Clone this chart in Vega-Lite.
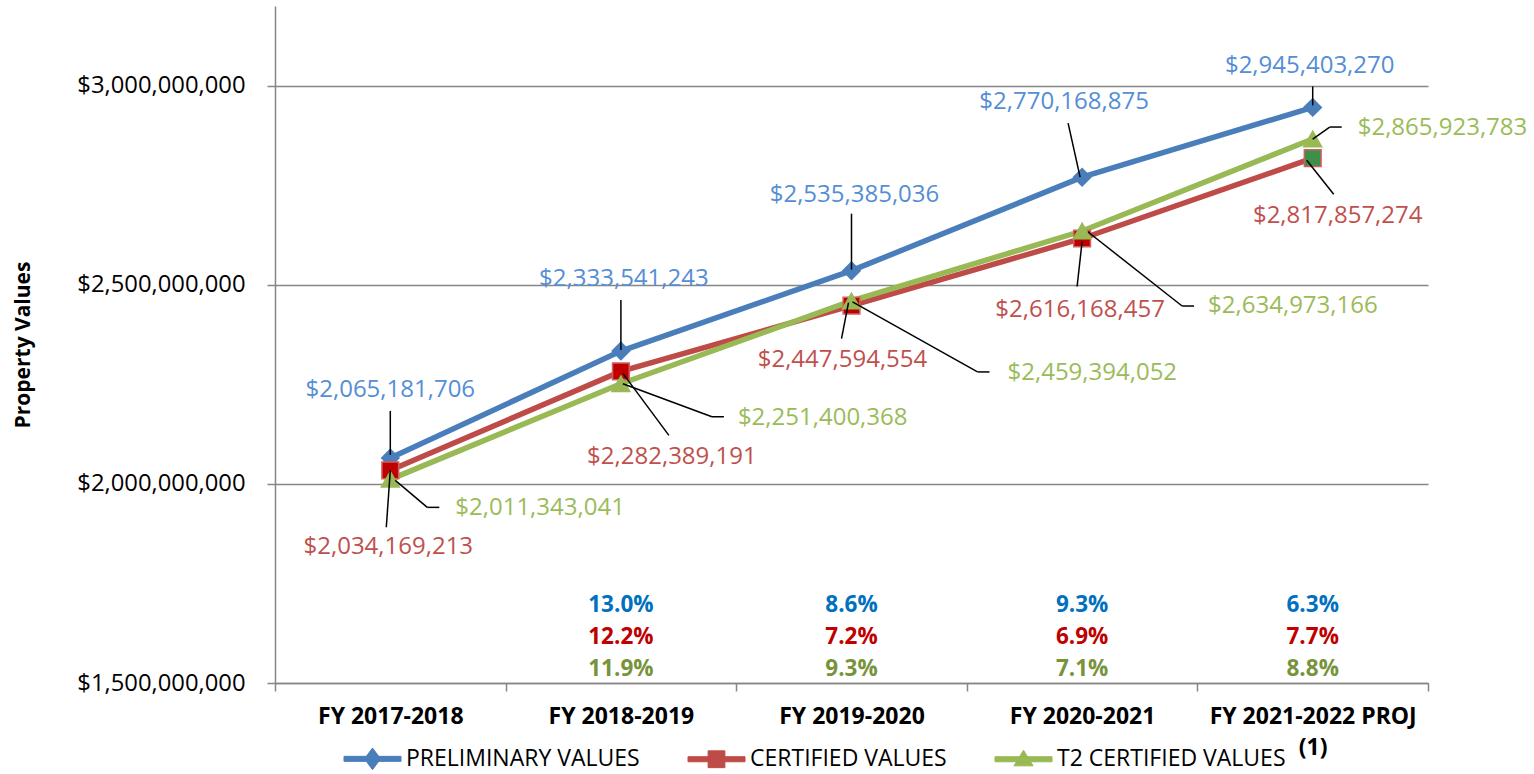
{
  "$schema": "https://vega.github.io/schema/vega-lite/v6.json",
  "width": 1153,
  "height": 677,
  "padding": {"left": 12, "top": 6, "right": 0, "bottom": 0},
  "background": "white",
  "params": [
    {"name": "yrs", "value": ["FY 2017-2018", "FY 2018-2019", "FY 2019-2020", "FY 2020-2021", "FY 2021-2022 PROJ"]}
  ],
  "config": {"view": {"stroke": null}, "font": "Open Sans"},
  "data": {
    "values": [
      {"year": "FY 2017-2018", "series": "PRELIMINARY VALUES", "value": 2065181706, "growth": null},
      {"year": "FY 2018-2019", "series": "PRELIMINARY VALUES", "value": 2333541243, "growth": "13.0%"},
      {"year": "FY 2019-2020", "series": "PRELIMINARY VALUES", "value": 2535385036, "growth": "8.6%"},
      {"year": "FY 2020-2021", "series": "PRELIMINARY VALUES", "value": 2770168875, "growth": "9.3%"},
      {"year": "FY 2021-2022 PROJ", "series": "PRELIMINARY VALUES", "value": 2945403270, "growth": "6.3%"},
      {"year": "FY 2017-2018", "series": "CERTIFIED VALUES", "value": 2034169213, "growth": null},
      {"year": "FY 2018-2019", "series": "CERTIFIED VALUES", "value": 2282389191, "growth": "12.2%"},
      {"year": "FY 2019-2020", "series": "CERTIFIED VALUES", "value": 2447594554, "growth": "7.2%"},
      {"year": "FY 2020-2021", "series": "CERTIFIED VALUES", "value": 2616168457, "growth": "6.9%"},
      {"year": "FY 2021-2022 PROJ", "series": "CERTIFIED VALUES", "value": 2817857274, "growth": "7.7%"},
      {"year": "FY 2017-2018", "series": "T2 CERTIFIED VALUES", "value": 2011343041, "growth": null},
      {"year": "FY 2018-2019", "series": "T2 CERTIFIED VALUES", "value": 2251400368, "growth": "11.9%"},
      {"year": "FY 2019-2020", "series": "T2 CERTIFIED VALUES", "value": 2459394052, "growth": "9.3%"},
      {"year": "FY 2020-2021", "series": "T2 CERTIFIED VALUES", "value": 2634973166, "growth": "7.1%"},
      {"year": "FY 2021-2022 PROJ", "series": "T2 CERTIFIED VALUES", "value": 2865923783, "growth": "8.8%"}
    ]
  },
  "encoding": {
    "x": {
      "field": "year", "type": "nominal",
      "scale": {"type": "band", "paddingInner": 0, "paddingOuter": 0},
      "axis": {
        "title": null, "labelAngle": 0, "tickBand": "extent", "grid": false,
        "labelFont": "Open Sans", "labelFontWeight": "bold", "labelFontSize": 23, "labelColor": "#000", "labelLimit": 400,
        "domainColor": "#868686", "domainWidth": 1.5, "tickColor": "#868686", "tickWidth": 1.5, "tickSize": 8,
        "labelPadding": 14, "labelLineHeight": 31,
        "labelExpr": "datum.value == 'FY 2021-2022 PROJ' ? ['FY 2021-2022 PROJ', '(1)'] : datum.value"
      }
    },
    "y": {
      "field": "value", "type": "quantitative",
      "scale": {"domain": [1500000000, 3200000000], "nice": false, "zero": false},
      "axis": {
        "title": "Property Values", "values": [1500000000, 2000000000, 2500000000, 3000000000],
        "format": "$,.0f", "labelFont": "Open Sans", "labelFontWeight": "normal", "labelFontSize": 23.8, "labelColor": "#000",
        "labelPadding": 22, "tickSize": 8, "tickColor": "#868686", "tickWidth": 1.5, "labelLimit": 400,
        "domainColor": "#868686", "domainWidth": 1.5, "grid": true, "gridColor": "#868686", "gridWidth": 1.5,
        "titleFont": "Open Sans", "titleFontWeight": "bold", "titleFontSize": 21, "titleColor": "#000", "titlePadding": 43
      }
    }
  },
  "layer": [
    {
      "mark": {"type": "line", "strokeWidth": 5.5},
      "encoding": {
        "color": {
          "field": "series", "type": "nominal",
          "scale": {"domain": ["PRELIMINARY VALUES", "CERTIFIED VALUES", "T2 CERTIFIED VALUES"], "range": ["#4A7EBB", "#BE4B48", "#98B954"]},
          "legend": {
            "orient": "none", "legendX": 85, "legendY": 740, "direction": "horizontal", "columns": 3,
            "title": null, "labelFont": "Open Sans", "labelFontSize": 23, "labelColor": "#000", "labelLimit": 400,
            "symbolSize": 576, "labelOffset": 21, "columnPadding": 46, "symbolStrokeWidth": 1, "symbolOpacity": 1
          }
        }
      }
    },
    {
      "mark": {"type": "point", "filled": true, "opacity": 0},
      "encoding": {
        "color": {"field": "series", "type": "nominal"},
        "shape": {
          "field": "series", "type": "nominal",
          "scale": {
            "domain": ["PRELIMINARY VALUES", "CERTIFIED VALUES", "T2 CERTIFIED VALUES"],
            "range": [
              "M-2.375,-0.21H2.375V0.21H-2.375Z M0,-0.9L0.67,0L0,0.9L-0.67,0Z",
              "M-2.375,-0.21H2.375V0.21H-2.375Z M-0.7,-0.7H0.7V0.7H-0.7Z",
              "M-2.375,-0.21H2.375V0.21H-2.375Z M0,-0.75L0.8,0.55L-0.8,0.55Z"
            ]
          },
          "legend": null
        }
      }
    },
    {
      "transform": [{"filter": "datum.series == 'PRELIMINARY VALUES'"}],
      "mark": {"type": "point", "shape": "diamond", "filled": true, "size": 300, "fill": "#4A7EBB", "stroke": "#4A7EBB", "strokeWidth": 1.5, "opacity": 1}
    },
    {
      "transform": [{"filter": "datum.series == 'CERTIFIED VALUES'"}],
      "mark": {"type": "point", "shape": "square", "filled": true, "size": 280, "stroke": "#D0605D", "strokeWidth": 1.5, "opacity": 1},
      "encoding": {
        "fill": {"condition": {"test": "datum.year == 'FY 2021-2022 PROJ'", "value": "#3E8F4A"}, "value": "#C00000"}
      }
    },
    {
      "transform": [{"filter": "datum.series == 'T2 CERTIFIED VALUES'"}],
      "mark": {"type": "point", "shape": "triangle-up", "filled": true, "size": 320, "fill": "#98B954", "stroke": "#98B954", "strokeWidth": 1.5, "opacity": 1}
    },
    {
      "transform": [{"filter": "datum.series == 'PRELIMINARY VALUES'"}],
      "mark": {
        "type": "rule", "color": "#000", "strokeWidth": 1.5,
        "xOffset": {"expr": "[0,0,0,-2,0][indexof(yrs, datum.year)]"},
        "yOffset": {"expr": "[-3,-1,-1,0,-2][indexof(yrs, datum.year)]"},
        "x2Offset": {"expr": "[0,0,0,-14,0][indexof(yrs, datum.year)]"},
        "y2Offset": {"expr": "[-47,-51,-57,-54,-21][indexof(yrs, datum.year)]"}
      },
      "encoding": {"x2": {"field": "year"}, "y2": {"field": "value"}}
    },
    {
      "transform": [{"filter": "datum.series == 'CERTIFIED VALUES'"}],
      "mark": {
        "type": "rule", "color": "#000", "strokeWidth": 1.5,
        "xOffset": {"expr": "[0,2,-3,0,-6][indexof(yrs, datum.year)]"},
        "yOffset": {"expr": "[0,2,-3,3,2][indexof(yrs, datum.year)]"},
        "x2Offset": {"expr": "[-4,48,-10,-5,21][indexof(yrs, datum.year)]"},
        "y2Offset": {"expr": "[57,64,33,48,36][indexof(yrs, datum.year)]"}
      },
      "encoding": {"x2": {"field": "year"}, "y2": {"field": "value"}}
    },
    {
      "transform": [{"filter": "datum.series == 'T2 CERTIFIED VALUES'"}],
      "mark": {
        "type": "rule", "color": "#000", "strokeWidth": 1.5,
        "xOffset": {"expr": "[5,2,1,6,0][indexof(yrs, datum.year)]"},
        "yOffset": {"expr": "[1,0,1,1,0][indexof(yrs, datum.year)]"},
        "x2Offset": {"expr": "[37,91,126,100,17][indexof(yrs, datum.year)]"},
        "y2Offset": {"expr": "[28,33,71,75,-12][indexof(yrs, datum.year)]"}
      },
      "encoding": {"x2": {"field": "year"}, "y2": {"field": "value"}}
    },
    {
      "transform": [{"filter": "datum.series == 'T2 CERTIFIED VALUES'"}],
      "mark": {
        "type": "rule", "color": "#000", "strokeWidth": 1.5,
        "xOffset": {"expr": "[37,91,126,100,17][indexof(yrs, datum.year)]"},
        "yOffset": {"expr": "[28,33,71,75,-12][indexof(yrs, datum.year)]"},
        "x2Offset": {"expr": "[49,103,138,112,29][indexof(yrs, datum.year)]"},
        "y2Offset": {"expr": "[28,33,71,75,-12][indexof(yrs, datum.year)]"}
      },
      "encoding": {"x2": {"field": "year"}, "y2": {"field": "value"}}
    },
    {
      "transform": [{"filter": "datum.series == 'PRELIMINARY VALUES'"}],
      "mark": {
        "type": "text", "font": "Open Sans", "fontSize": 24, "align": "center", "baseline": "middle", "color": "#558ED5",
        "dx": {"expr": "[0,3,3,-18,-3][indexof(yrs, datum.year)]"},
        "dy": {"expr": "[-68,-72,-76,-75,-41][indexof(yrs, datum.year)]"}
      },
      "encoding": {"text": {"field": "value", "type": "quantitative", "format": "$,.0f"}}
    },
    {
      "transform": [{"filter": "datum.series == 'CERTIFIED VALUES'"}],
      "mark": {
        "type": "text", "font": "Open Sans", "fontSize": 24, "align": "center", "baseline": "middle", "color": "#C0504D",
        "dx": {"expr": "[-2,51,-9,-2,25][indexof(yrs, datum.year)]"},
        "dy": {"expr": "[77,86,54,71,58][indexof(yrs, datum.year)]"}
      },
      "encoding": {"text": {"field": "value", "type": "quantitative", "format": "$,.0f"}}
    },
    {
      "transform": [{"filter": "datum.series == 'T2 CERTIFIED VALUES'"}],
      "mark": {
        "type": "text", "font": "Open Sans", "fontSize": 24, "align": "left", "baseline": "middle", "color": "#9BBB59",
        "dx": {"expr": "[65,117,156,126,45][indexof(yrs, datum.year)]"},
        "dy": {"expr": "[29,34,72,75,-11][indexof(yrs, datum.year)]"}
      },
      "encoding": {"text": {"field": "value", "type": "quantitative", "format": "$,.0f"}}
    },
    {
      "transform": [{"filter": "datum.series == 'PRELIMINARY VALUES' && datum.growth != null"}],
      "mark": {"type": "text", "font": "Open Sans", "fontSize": 22.5, "fontWeight": "bold", "align": "center", "baseline": "middle", "color": "#0070C0", "dy": -78},
      "encoding": {"y": {"datum": 1500000000, "type": "quantitative"}, "text": {"field": "growth", "type": "nominal"}}
    },
    {
      "transform": [{"filter": "datum.series == 'CERTIFIED VALUES' && datum.growth != null"}],
      "mark": {"type": "text", "font": "Open Sans", "fontSize": 22.5, "fontWeight": "bold", "align": "center", "baseline": "middle", "color": "#C00000", "dy": -46},
      "encoding": {"y": {"datum": 1500000000, "type": "quantitative"}, "text": {"field": "growth", "type": "nominal"}}
    },
    {
      "transform": [{"filter": "datum.series == 'T2 CERTIFIED VALUES' && datum.growth != null"}],
      "mark": {"type": "text", "font": "Open Sans", "fontSize": 22.5, "fontWeight": "bold", "align": "center", "baseline": "middle", "color": "#77933C", "dy": -14},
      "encoding": {"y": {"datum": 1500000000, "type": "quantitative"}, "text": {"field": "growth", "type": "nominal"}}
    }
  ]
}
